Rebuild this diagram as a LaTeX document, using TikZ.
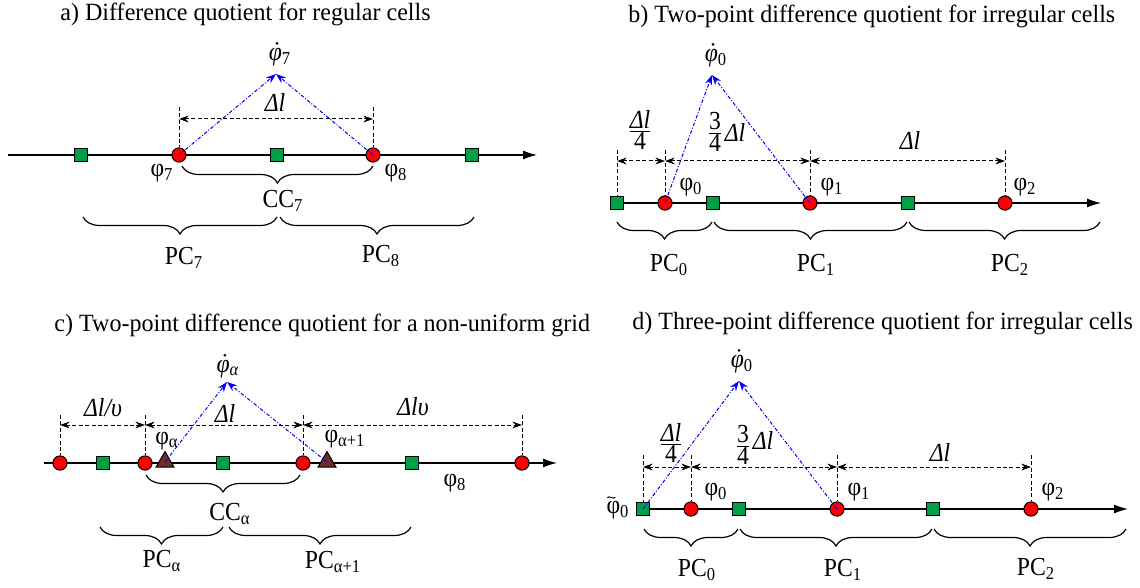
\documentclass[tikz,border=0pt]{standalone}
\usepackage{fontspec}
\setmainfont[FakeStretch=0.91]{Liberation Serif}
\newfontfamily\ttlfont[FakeStretch=0.97]{Liberation Serif}
\usetikzlibrary{arrows.meta,decorations.pathreplacing,shapes.geometric}
\definecolor{cgreen}{RGB}{0,160,72}
\definecolor{cbrown}{RGB}{112,44,38}
\tikzset{
  axisline/.style={draw, line width=0.6pt, -{Latex[length=7pt,width=4.5pt]}},
  rc/.style={circle, draw, fill=red, minimum size=7.1pt, inner sep=0pt, line width=0.5pt},
  gs/.style={rectangle, draw, fill=cgreen, minimum size=6.3pt, inner sep=0pt, line width=0.5pt},
  tri/.style={regular polygon, regular polygon sides=3, draw, fill=cbrown, minimum size=10.4pt, inner sep=0pt, line width=0.5pt},
  bl/.style={blue, line width=0.5pt, dash pattern=on 1.8pt off 0.9pt on 0.5pt off 0.9pt, -{Stealth[length=5pt,width=3.6pt]}},
  dimline/.style={line width=0.5pt, dash pattern=on 2pt off 1.2pt, {Stealth[length=4.8pt,width=3.4pt]}-{Stealth[length=4.8pt,width=3.4pt]}},
  tickline/.style={line width=0.5pt, dash pattern=on 2pt off 1.2pt},
  br/.style={decorate, decoration={brace, mirror, amplitude=8.5pt}, line width=0.6pt},
  ttl/.style={font=\ttlfont\fontsize{12.4}{14}\selectfont, inner sep=0pt, anchor=west},
  lab/.style={font=\fontsize{13}{15}\selectfont, inner sep=0pt},
  dotmark/.style={fill=black},
}
\newcommand{\myfrac}[2]{$\frac{\mbox{#1}}{\mbox{#2}}$}
\begin{document}
\begin{tikzpicture}[x=0.5pt,y=-0.5pt]
\useasboundingbox (0,0) rectangle (1140,588);
% ================= a =================
\node[ttl] (ta) at (60,14) {a) Difference quotient for regular cells};
\coordinate (a0) at (8,155); \coordinate (a1) at (537,155);
\draw[axisline] (a0) -- (a1);
\coordinate (at7) at (179,107); \coordinate (at8) at (373,107);
\coordinate (ad7) at (179,119); \coordinate (ad8) at (373,119);
\node[rc] (ar7) at (179,155) {};
\node[rc] (ar8) at (373,155) {};
\draw[tickline] (at7) -- (ar7.north);
\draw[tickline] (at8) -- (ar8.north);
\draw[dimline] (ad7) -- (ad8);
\node[gs] (ag1) at (81,155) {};
\node[gs] (ag2) at (277,155) {};
\node[gs] (ag3) at (472,155) {};
\node[lab] (adl) at (275,102) {\itshape Δl};
\coordinate (aap) at (276,74);
\node[lab] (adot) at (280,57) {\itshape φ\textsubscript{\upshape 7}};
\fill[dotmark] ([xshift=4.3pt,yshift=2.2pt]adot.north west) circle (0.75pt);
\draw[bl] (ar7.center) -- (aap);
\draw[bl] (ar8.center) -- (aap);
\node[lab] (aphi7) at (162,173) {φ\textsubscript{7}};
\node[lab] (aphi8) at (396,173) {φ\textsubscript{8}};
\coordinate (acb1) at (182,166); \coordinate (acb2) at (373,166);
\draw[br] (acb1) -- (acb2);
\node[lab] (acc) at (283,201) {CC\textsubscript{7}};
\coordinate (apb1) at (83,217); \coordinate (apb2) at (277,217);
\coordinate (apb3) at (280,217); \coordinate (apb4) at (474,217);
\draw[br] (apb1) -- (apb2);
\draw[br] (apb3) -- (apb4);
\node[lab] (apc7) at (184,258) {PC\textsubscript{7}};
\node[lab] (apc8) at (381,256) {PC\textsubscript{8}};
% ================= b =================
\node[ttl] (tb) at (628,16) {b) Two-point difference quotient for irregular cells};
\coordinate (b0) at (612,203); \coordinate (b1) at (1101,203);
\draw[axisline] (b0) -- (b1);
\node[gs] (bg1) at (617,203) {};
\node[rc] (br0) at (665,203) {};
\node[gs] (bg2) at (713,203) {};
\node[rc] (br1) at (810,203) {};
\node[gs] (bg3) at (908,203) {};
\node[rc] (br2) at (1005,203) {};
\coordinate (btg) at (617,150); \coordinate (bt0) at (665,150);
\coordinate (bt1) at (810,150); \coordinate (bt2) at (1005,150);
\draw[tickline] (btg) -- (bg1.north);
\draw[tickline] (bt0) -- (br0.north);
\draw[tickline] (bt1) -- (br1.north);
\draw[tickline] (bt2) -- (br2.north);
\coordinate (bdg) at (617,161); \coordinate (bd0) at (665,161);
\coordinate (bd1) at (810,161); \coordinate (bd2) at (1005,161);
\draw[dimline] (bdg) -- (bd0);
\draw[dimline] (bd0) -- (bd1);
\draw[dimline] (bd1) -- (bd2);
\node[lab] (bf1) at (640,130) {\myfrac{\itshape Δl}{4}};
\node[lab] (bf2) at (715,132) {\myfrac{3}{4}};
\node[lab] (bf2l) at (735,132) {\itshape Δl};
\node[lab] (bdl) at (910,140) {\itshape Δl};
\coordinate (bap) at (712,75);
\node[lab] (bdot) at (716,58) {\itshape φ\textsubscript{\upshape 0}};
\fill[dotmark] ([xshift=4.3pt,yshift=2.2pt]bdot.north west) circle (0.75pt);
\draw[bl] (br0.center) -- (bap);
\draw[bl] (br1.center) -- (bap);
\node[lab] (bphi0) at (691,187) {φ\textsubscript{0}};
\node[lab] (bphi1) at (832,187) {φ\textsubscript{1}};
\node[lab] (bphi2) at (1025,187) {φ\textsubscript{2}};
\coordinate (bpb1) at (617,222); \coordinate (bpb2) at (712,222);
\coordinate (bpb3) at (714,222); \coordinate (bpb4) at (907,222);
\coordinate (bpb5) at (909,222); \coordinate (bpb6) at (1100,222);
\draw[br] (bpb1) -- (bpb2);
\draw[br] (bpb3) -- (bpb4);
\draw[br] (bpb5) -- (bpb6);
\node[lab] (bpc0) at (669,265) {PC\textsubscript{0}};
\node[lab] (bpc1) at (816,265) {PC\textsubscript{1}};
\node[lab] (bpc2) at (1010,265) {PC\textsubscript{2}};
% ================= c =================
\node[ttl] (tc) at (54,325) {c) Two-point difference quotient for a non-uniform grid};
\coordinate (c0) at (44,463); \coordinate (c1) at (557,463);
\draw[axisline] (c0) -- (c1);
\node[rc] (cr1) at (60,463) {};
\node[gs] (cg1) at (103,463) {};
\node[rc] (cr2) at (145,463) {};
\node[tri] (ct1) at (165,462) {};
\node[gs] (cg2) at (223,463) {};
\node[rc] (cr3) at (303,463) {};
\node[tri] (ct2) at (327,462) {};
\node[gs] (cg3) at (412,463) {};
\node[rc] (cr4) at (522,463) {};
\coordinate (ctk1) at (60,415); \coordinate (ctk2) at (145,415);
\coordinate (ctk3) at (303,415); \coordinate (ctk4) at (522,415);
\draw[tickline] (ctk1) -- (cr1.north);
\draw[tickline] (ctk2) -- (cr2.north);
\draw[tickline] (ctk3) -- (cr3.north);
\draw[tickline] (ctk4) -- (cr4.north);
\coordinate (cd1) at (60,425); \coordinate (cd2) at (145,425);
\coordinate (cd3) at (303,425); \coordinate (cd4) at (522,425);
\draw[dimline] (cd1) -- (cd2);
\draw[dimline] (cd2) -- (cd3);
\draw[dimline] (cd3) -- (cd4);
\node[lab] (cl1) at (103,408) {\itshape Δl/υ};
\node[lab] (cl2) at (225,413) {\itshape Δl};
\node[lab] (cl3) at (413,407) {\itshape Δlυ};
\coordinate (cap) at (227,382);
\node[lab] (cdot) at (228,369) {\itshape φ\textsubscript{α}};
\fill[dotmark] ([xshift=4.3pt,yshift=2.2pt]cdot.north west) circle (0.75pt);
\draw[bl] (ct1.center) -- (cap);
\draw[bl] (ct2.center) -- (cap);
\node[lab] (cphia) at (167,441) {φ\textsubscript{α}};
\node[lab] (cphib) at (345,439) {φ\textsubscript{α+1}};
\node[lab] (cphi8) at (455,483) {φ\textsubscript{8}};
\coordinate (ccb1) at (146,475); \coordinate (ccb2) at (300,475);
\draw[br] (ccb1) -- (ccb2);
\node[lab] (ccc) at (230,514) {CC\textsubscript{α}};
\coordinate (cpb1) at (100,527); \coordinate (cpb2) at (223,527);
\coordinate (cpb3) at (229,527); \coordinate (cpb4) at (411,527);
\draw[br] (cpb1) -- (cpb2);
\draw[br] (cpb3) -- (cpb4);
\node[lab] (cpca) at (162,561) {PC\textsubscript{α}};
\node[lab] (cpcb) at (333,562) {PC\textsubscript{α+1}};
% ================= d =================
\node[ttl] (td) at (632,323) {d) Three-point difference quotient for irregular cells};
\coordinate (d0) at (643,509); \coordinate (d1) at (1128,509);
\draw[axisline] (d0) -- (d1);
\node[gs] (dg1) at (643,509) {};
\node[rc] (dr0) at (691,509) {};
\node[gs] (dg2) at (739,509) {};
\node[rc] (dr1) at (837,509) {};
\node[gs] (dg3) at (933,509) {};
\node[rc] (dr2) at (1031,509) {};
\coordinate (dtg) at (643,455); \coordinate (dt0) at (691,455);
\coordinate (dt1) at (837,455); \coordinate (dt2) at (1031,455);
\draw[tickline] (dtg) -- (dg1.north);
\draw[tickline] (dt0) -- (dr0.north);
\draw[tickline] (dt1) -- (dr1.north);
\draw[tickline] (dt2) -- (dr2.north);
\coordinate (ddg) at (643,467); \coordinate (dd0) at (691,467);
\coordinate (dd1) at (837,467); \coordinate (dd2) at (1031,467);
\draw[dimline] (ddg) -- (dd0);
\draw[dimline] (dd0) -- (dd1);
\draw[dimline] (dd1) -- (dd2);
\node[lab] (df1) at (671,443) {\myfrac{\itshape Δl}{4}};
\node[lab] (df2) at (743,445) {\myfrac{3}{4}};
\node[lab] (df2l) at (763,440) {\itshape Δl};
\node[lab] (ddl) at (940,452) {\itshape Δl};
\coordinate (dap) at (739,381);
\node[lab] (ddot) at (742,364) {\itshape φ\textsubscript{\upshape 0}};
\fill[dotmark] ([xshift=4.3pt,yshift=2.2pt]ddot.north west) circle (0.75pt);
\draw[bl] (dg1.center) -- (dap);
\draw[bl] (dr1.center) -- (dap);
\node[lab] (dphit) at (618,510) {φ\textsubscript{0}};
\draw[line width=0.5pt] ([xshift=0.6pt,yshift=1.5pt]dphit.north west) .. controls +(0.9pt,1.3pt) and +(-0.9pt,-1.3pt) .. ([xshift=4.6pt,yshift=1.7pt]dphit.north west);
\node[lab] (dphi0) at (716,492) {φ\textsubscript{0}};
\node[lab] (dphi1) at (859,492) {φ\textsubscript{1}};
\node[lab] (dphi2) at (1053,492) {φ\textsubscript{2}};
\coordinate (dpb1) at (644,529); \coordinate (dpb2) at (738,529);
\coordinate (dpb3) at (740,529); \coordinate (dpb4) at (932,529);
\coordinate (dpb5) at (934,529); \coordinate (dpb6) at (1126,529);
\draw[br] (dpb1) -- (dpb2);
\draw[br] (dpb3) -- (dpb4);
\draw[br] (dpb5) -- (dpb6);
\node[lab] (dpc0) at (697,570) {PC\textsubscript{0}};
\node[lab] (dpc1) at (843,570) {PC\textsubscript{1}};
\node[lab] (dpc2) at (1036,569) {PC\textsubscript{2}};
\end{tikzpicture}
\end{document}
